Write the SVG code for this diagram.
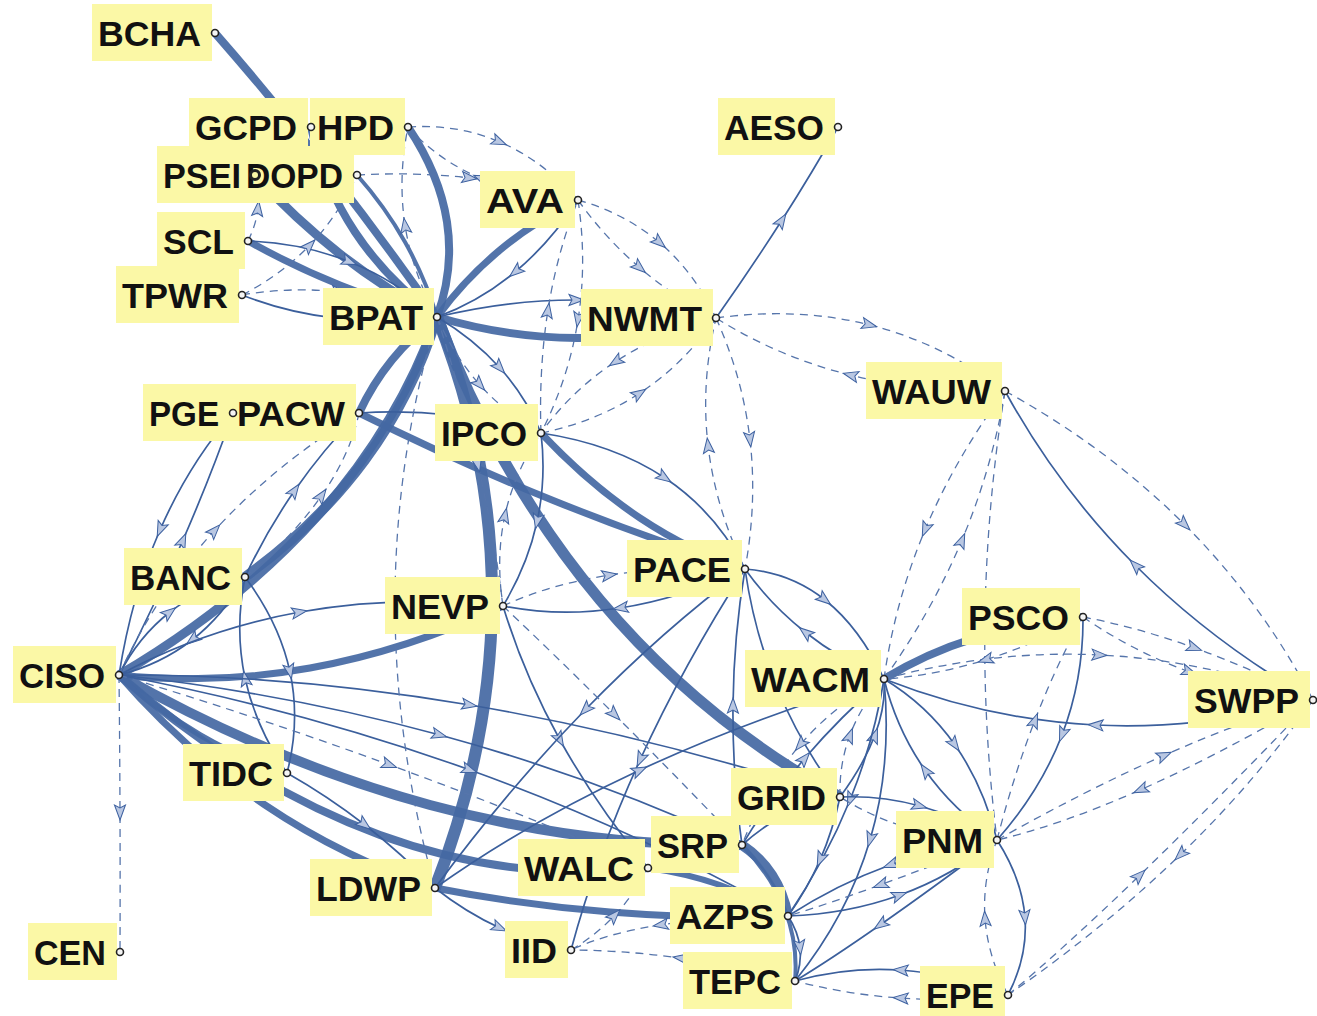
<svg xmlns="http://www.w3.org/2000/svg" width="1317" height="1016" viewBox="0 0 1317 1016">
<style>
.k{fill:none;stroke:#4468a3;stroke-opacity:.92}
.s{fill:none;stroke:#3b5f9c;stroke-width:1.7;marker-mid:url(#ah)}
.d{fill:none;stroke:#5675ab;stroke-width:1.3;stroke-dasharray:8 6;marker-mid:url(#ah)}
.lb{fill:#fbf8a6}
.t{font-family:"Liberation Sans",Arial,sans-serif;font-weight:700;font-size:35px;fill:#111}
.nd{fill:#f4f4f4;stroke:#222;stroke-width:1.6}
</style>
<defs>
<marker id="ah" viewBox="-10 -7 19 14" refX="0" refY="0" markerWidth="19" markerHeight="14" markerUnits="userSpaceOnUse" orient="auto">
<path d="M7,0 L-8,-5.5 L-5,0 L-8,5.5 Z" fill="#b9c7e2" stroke="#3d61a0" stroke-width="1"/>
</marker>
</defs>
<rect width="1317" height="1016" fill="#fff"/>
<g id="connectors">
<g id="thick">
<path class="k" stroke-width="8" d="M215 33 Q274.5 101 330 172 T437 317"/>
<path class="k" stroke-width="9" d="M255 175 Q294.5 218.5 340 254 T437 317"/>
<path class="k" stroke-width="8" d="M311 127 Q323.5 184.5 355 232 T437 317"/>
<path class="k" stroke-width="8" d="M408 127 Q439.75 174.5 447 222 T437 317"/>
<path class="k" stroke-width="4" d="M357 175 Q385 206.5 405 242 T437 317"/>
<path class="k" stroke-width="7" d="M248 241 Q292.75 266 340 285 T437 317"/>
<path class="k" stroke-width="7" d="M578 200 Q535.25 220.75 500 250 T437 317"/>
<path class="k" stroke-width="8" d="M716 318 Q646.75 338.25 577 338 T437 317"/>
<path class="k" stroke-width="12" d="M437 317 Q492.5 457.25 492 600 T435 888"/>
<path class="k" stroke-width="11" d="M437 317 Q499.25 480 600 600 T840 797"/>
<path class="k" stroke-width="7" d="M541 433 Q589 484 640 518 T745 569"/>
<path class="k" stroke-width="7" d="M359 413 Q455.5 461 552 500 T745 569"/>
<path class="k" stroke-width="8" d="M437 317 Q411.5 336 392 360 T359 413"/>
<path class="k" stroke-width="10" d="M437 317 Q413 395 365 460 T245 577"/>
<path class="k" stroke-width="9" d="M119 675 Q239.5 604 319 514.5 T437 317"/>
<path class="k" stroke-width="7" d="M119 675 Q214 685.25 310 668 T503 606"/>
<path class="k" stroke-width="10" d="M119 675 Q274.25 762.5 430 805 T742 845"/>
<path class="k" stroke-width="8" d="M119 675 Q247.75 786.75 380 835 T648 868"/>
<path class="k" stroke-width="6" d="M119 675 Q158 710.5 200 735 T287 773"/>
<path class="k" stroke-width="7" d="M119 675 Q186 751.75 265 805 T435 888"/>
<path class="k" stroke-width="7" d="M435 888 Q521.75 905 610 912 T788 916"/>
<path class="k" stroke-width="6" d="M648 868 Q685 873 720 885 T788 916"/>
<path class="k" stroke-width="10" d="M742 845 Q760.5 857.25 772 875 T788 916"/>
<path class="k" stroke-width="4" d="M742 845 Q771.75 876 785 910 T795 981"/>
<path class="k" stroke-width="8" d="M884 679 Q925.25 653.5 975 638 T1083 617"/>
</g>
<g id="solid">
<path class="s" d="M242 295 Q286.25 312.5 335 318 T437 317"/>
<path class="s" d="M248 241 Q302.75 243 350 262 T437 317"/>
<path class="s" d="M578 200 Q550.25 242.75 515 272 T437 317"/>
<path class="s" d="M437 317 Q507.25 299.75 577 300 T716 318"/>
<path class="s" d="M716 318 Q751.5 267.75 782 220 T838 127"/>
<path class="s" d="M437 317 Q474 339 500 368 T541 433"/>
<path class="s" d="M359 413 Q404.5 410 450 415 T541 433"/>
<path class="s" d="M245 577 Q266.5 531 295 490 T359 413"/>
<path class="s" d="M119 675 Q154.5 605.5 183 540 T233 413"/>
<path class="s" d="M233 413 Q188.5 464.5 160 530 T119 675"/>
<path class="s" d="M119 675 Q138.5 636.5 170 612 T245 577"/>
<path class="s" d="M245 577 Q223.5 615.5 192 640 T119 675"/>
<path class="s" d="M245 577 Q279.5 623 290 672 T287 773"/>
<path class="s" d="M287 773 Q255.5 727 245 678 T245 577"/>
<path class="s" d="M119 675 Q204 629.25 300 612 T503 606"/>
<path class="s" d="M119 675 Q289.75 674.5 470 705 T840 797"/>
<path class="s" d="M119 675 Q284.25 692.5 440 735 T742 845"/>
<path class="s" d="M119 675 Q302.75 709.75 470 770 T788 916"/>
<path class="s" d="M287 773 Q328 796.25 365 825 T435 888"/>
<path class="s" d="M435 888 Q466 912.5 500 928 T571 950"/>
<path class="s" d="M745 569 Q680.5 598.75 620 608 T503 606"/>
<path class="s" d="M541 433 Q546.5 478.75 537 522 T503 606"/>
<path class="s" d="M503 606 Q523.75 674.5 560 740 T648 868"/>
<path class="s" d="M745 569 Q662.5 630.25 585 710 T435 888"/>
<path class="s" d="M745 569 Q683.5 664.75 640 760 T571 950"/>
<path class="s" d="M745 569 Q790.25 572.5 825 600 T884 679"/>
<path class="s" d="M884 679 Q839.75 659.5 805 632 T745 569"/>
<path class="s" d="M745 569 Q754.25 633 778 690 T840 797"/>
<path class="s" d="M742 845 Q732.25 774 733 705 T745 569"/>
<path class="s" d="M840 797 Q864 764.5 875 735 T884 679"/>
<path class="s" d="M884 679 Q874 740.75 850 800 T788 916"/>
<path class="s" d="M742 845 Q769.5 799.5 805 758 T884 679"/>
<path class="s" d="M884 679 Q892.25 764.5 870 840 T795 981"/>
<path class="s" d="M884 679 Q926.75 704.75 955 745 T997 840"/>
<path class="s" d="M997 840 Q953.25 810.25 925 770 T884 679"/>
<path class="s" d="M1083 617 Q1083.5 679.25 1062 735 T997 840"/>
<path class="s" d="M1313 700 Q1202.25 730.25 1095 725 T884 679"/>
<path class="s" d="M1313 700 Q1212 642.25 1135 565 T1005 391"/>
<path class="s" d="M997 840 Q1022.25 879.25 1025 918 T1008 995"/>
<path class="s" d="M840 797 Q880.75 795.25 920 806 T997 840"/>
<path class="s" d="M840 797 Q814.5 800 790 812 T742 845"/>
<path class="s" d="M997 840 Q942.25 846 890 865 T788 916"/>
<path class="s" d="M788 916 Q847.75 914 900 895 T997 840"/>
<path class="s" d="M997 840 Q930.5 889.75 880 925 T795 981"/>
<path class="s" d="M1008 995 Q953.25 973.5 900 970 T795 981"/>
<path class="s" d="M840 797 Q833 830.25 820 860 T788 916"/>
<path class="s" d="M435 888 Q527.75 822.25 640 770 T884 679"/>
<path class="s" d="M788 916 Q798.25 931.75 800 948 T795 981"/>
<path class="s" d="M541 433 Q614 444 665 478 T745 569"/>
</g>
<g id="dashed">
<path class="d" d="M119 675 Q119.75 743.75 120 813 T120 952"/>
<path class="d" d="M119 675 Q155 595.5 215 530 T359 413"/>
<path class="d" d="M245 577 Q293.5 536 322 495 T359 413"/>
<path class="d" d="M435 888 Q394.5 742.75 395 600 T437 317"/>
<path class="d" d="M437 317 Q461.5 392.75 478 465 T503 606"/>
<path class="d" d="M503 606 Q495.5 558.25 505 515 T541 433"/>
<path class="d" d="M503 606 Q549.5 584.25 610 575 T745 569"/>
<path class="d" d="M503 606 Q555.25 655.25 615 715 T742 845"/>
<path class="d" d="M716 318 Q742.75 377.25 750 440 T745 569"/>
<path class="d" d="M745 569 Q715.25 507.75 708 445 T716 318"/>
<path class="d" d="M716 318 Q658.75 333.25 615 362 T541 433"/>
<path class="d" d="M541 433 Q596.25 421.75 640 393 T716 318"/>
<path class="d" d="M578 200 Q587.25 261.75 578 320 T541 433"/>
<path class="d" d="M541 433 Q538.75 368.25 548 310 T578 200"/>
<path class="d" d="M578 200 Q625.5 213.5 660 243 T716 318"/>
<path class="d" d="M578 200 Q605.5 238.5 640 268 T716 318"/>
<path class="d" d="M408 127 Q457.5 123.75 500 142 T578 200"/>
<path class="d" d="M578 200 Q522.5 196.25 480 178 T408 127"/>
<path class="d" d="M357 175 Q414.75 171.75 470 178 T578 200"/>
<path class="d" d="M437 317 Q412.25 272.5 405 225 T408 127"/>
<path class="d" d="M716 318 Q797.75 306.75 870 325 T1005 391"/>
<path class="d" d="M1005 391 Q922.25 393.25 850 375 T716 318"/>
<path class="d" d="M1005 391 Q1108 447.75 1185 525 T1313 700"/>
<path class="d" d="M1005 391 Q955.25 458 925 530 T884 679"/>
<path class="d" d="M884 679 Q931.75 612 962 540 T1005 391"/>
<path class="d" d="M1005 391 Q987 502.75 985 615 T997 840"/>
<path class="d" d="M1083 617 Q1137.5 627.25 1195 648 T1313 700"/>
<path class="d" d="M1083 617 Q1132.5 651.25 1190 672 T1313 700"/>
<path class="d" d="M884 679 Q992.75 649.75 1100 655 T1313 700"/>
<path class="d" d="M1083 617 Q1034.75 644.5 985 660 T884 679"/>
<path class="d" d="M997 840 Q1013.5 775.75 1035 720 T1083 617"/>
<path class="d" d="M1313 700 Q1219 755 1140 790 T997 840"/>
<path class="d" d="M997 840 Q1086 790 1165 755 T1313 700"/>
<path class="d" d="M1008 995 Q1063.75 948.75 1140 875 T1313 700"/>
<path class="d" d="M1313 700 Q1256.25 781.25 1180 855 T1008 995"/>
<path class="d" d="M1008 995 Q987.75 956.75 985 918 T997 840"/>
<path class="d" d="M1008 995 Q953.25 1001.5 900 998 T795 981"/>
<path class="d" d="M795 981 Q736 965.75 680 958 T571 950"/>
<path class="d" d="M788 916 Q714.25 916.5 660 925 T571 950"/>
<path class="d" d="M571 950 Q595.75 935.5 615 915 T648 868"/>
<path class="d" d="M997 840 Q954.25 840.75 915 830 T840 797"/>
<path class="d" d="M997 840 Q932.25 866 880 885 T788 916"/>
<path class="d" d="M119 675 Q257.75 716.75 390 765 T648 868"/>
<path class="d" d="M248 241 Q256.25 224.5 258 208 T255 175"/>
<path class="d" d="M242 295 Q291.25 286.5 340 292 T437 317"/>
<path class="d" d="M242 295 Q281.25 275 310 245 T357 175"/>
<path class="d" d="M840 797 Q839 764.5 850 735 T884 679"/>
<path class="d" d="M884 679 Q835.5 703.5 800 745 T742 845"/>
<path class="d" d="M437 317 Q454 356 480 385 T541 433"/>
</g>
</g>
<g id="nodes">
<g id="n-BCHA"><rect class="lb" x="92" y="4" width="120" height="57"/><text class="t" x="98" y="45.5" textLength="103" lengthAdjust="spacingAndGlyphs">BCHA</text><circle class="nd" cx="215" cy="33" r="3.5"/></g>
<g id="n-HPD"><rect class="lb" x="310" y="98" width="95" height="57"/><text class="t" x="317" y="139.5" textLength="77" lengthAdjust="spacingAndGlyphs">HPD</text><circle class="nd" cx="408" cy="127" r="3.5"/></g>
<g id="n-GCPD"><rect class="lb" x="189" y="98" width="119" height="57"/><text class="t" x="195" y="139.5" textLength="102" lengthAdjust="spacingAndGlyphs">GCPD</text><circle class="nd" cx="311" cy="127" r="3.5"/></g>
<g id="n-DOPD"><rect class="lb" x="244" y="146" width="110" height="57"/><text class="t" x="246" y="187.5" textLength="97" lengthAdjust="spacingAndGlyphs">DOPD</text><circle class="nd" cx="357" cy="175" r="3.5"/></g>
<g id="n-PSEI"><rect class="lb" x="157" y="146" width="87" height="57"/><text class="t" x="163" y="187.5" textLength="78" lengthAdjust="spacingAndGlyphs">PSEI</text><circle class="nd" cx="255" cy="175" r="4.5" style="fill:#fbf8a6;stroke-width:3"/></g>
<g id="n-AVA"><rect class="lb" x="480" y="171" width="95" height="57"/><text class="t" x="486" y="212.5" textLength="78" lengthAdjust="spacingAndGlyphs">AVA</text><circle class="nd" cx="578" cy="200" r="3.5"/></g>
<g id="n-AESO"><rect class="lb" x="718" y="98" width="117" height="57"/><text class="t" x="724" y="139.5" textLength="100" lengthAdjust="spacingAndGlyphs">AESO</text><circle class="nd" cx="838" cy="127" r="3.5"/></g>
<g id="n-SCL"><rect class="lb" x="157" y="212" width="88" height="57"/><text class="t" x="163" y="253.5" textLength="71" lengthAdjust="spacingAndGlyphs">SCL</text><circle class="nd" cx="248" cy="241" r="3.5"/></g>
<g id="n-TPWR"><rect class="lb" x="116" y="266" width="123" height="57"/><text class="t" x="122" y="307.5" textLength="106" lengthAdjust="spacingAndGlyphs">TPWR</text><circle class="nd" cx="242" cy="295" r="3.5"/></g>
<g id="n-BPAT"><rect class="lb" x="323" y="288" width="111" height="57"/><text class="t" x="329" y="329.5" textLength="94" lengthAdjust="spacingAndGlyphs">BPAT</text><circle class="nd" cx="437" cy="317" r="3.5"/></g>
<g id="n-NWMT"><rect class="lb" x="581" y="289" width="132" height="57"/><text class="t" x="587" y="330.5" textLength="115" lengthAdjust="spacingAndGlyphs">NWMT</text><circle class="nd" cx="716" cy="318" r="3.5"/></g>
<g id="n-WAUW"><rect class="lb" x="866" y="362" width="136" height="57"/><text class="t" x="872" y="403.5" textLength="119" lengthAdjust="spacingAndGlyphs">WAUW</text><circle class="nd" cx="1005" cy="391" r="3.5"/></g>
<g id="n-PACW"><rect class="lb" x="233" y="384" width="123" height="57"/><text class="t" x="237" y="425.5" textLength="108" lengthAdjust="spacingAndGlyphs">PACW</text><circle class="nd" cx="359" cy="413" r="3.5"/></g>
<g id="n-PGE"><rect class="lb" x="143" y="384" width="90" height="57"/><text class="t" x="149" y="425.5" textLength="70" lengthAdjust="spacingAndGlyphs">PGE</text><circle class="nd" cx="233" cy="413" r="3.5"/></g>
<g id="n-IPCO"><rect class="lb" x="435" y="404" width="103" height="57"/><text class="t" x="441" y="445.5" textLength="86" lengthAdjust="spacingAndGlyphs">IPCO</text><circle class="nd" cx="541" cy="433" r="3.5"/></g>
<g id="n-PACE"><rect class="lb" x="627" y="540" width="115" height="57"/><text class="t" x="633" y="581.5" textLength="98" lengthAdjust="spacingAndGlyphs">PACE</text><circle class="nd" cx="745" cy="569" r="3.5"/></g>
<g id="n-BANC"><rect class="lb" x="124" y="548" width="118" height="57"/><text class="t" x="130" y="589.5" textLength="101" lengthAdjust="spacingAndGlyphs">BANC</text><circle class="nd" cx="245" cy="577" r="3.5"/></g>
<g id="n-NEVP"><rect class="lb" x="385" y="577" width="115" height="57"/><text class="t" x="391" y="618.5" textLength="98" lengthAdjust="spacingAndGlyphs">NEVP</text><circle class="nd" cx="503" cy="606" r="3.5"/></g>
<g id="n-PSCO"><rect class="lb" x="962" y="588" width="118" height="57"/><text class="t" x="968" y="629.5" textLength="101" lengthAdjust="spacingAndGlyphs">PSCO</text><circle class="nd" cx="1083" cy="617" r="3.5"/></g>
<g id="n-CISO"><rect class="lb" x="13" y="646" width="103" height="57"/><text class="t" x="19" y="687.5" textLength="86" lengthAdjust="spacingAndGlyphs">CISO</text><circle class="nd" cx="119" cy="675" r="3.5"/></g>
<g id="n-WACM"><rect class="lb" x="745" y="650" width="136" height="57"/><text class="t" x="751" y="691.5" textLength="119" lengthAdjust="spacingAndGlyphs">WACM</text><circle class="nd" cx="884" cy="679" r="3.5"/></g>
<g id="n-SWPP"><rect class="lb" x="1188" y="671" width="122" height="57"/><text class="t" x="1194" y="712.5" textLength="105" lengthAdjust="spacingAndGlyphs">SWPP</text><circle class="nd" cx="1313" cy="700" r="3.5"/></g>
<g id="n-TIDC"><rect class="lb" x="183" y="744" width="101" height="57"/><text class="t" x="189" y="785.5" textLength="84" lengthAdjust="spacingAndGlyphs">TIDC</text><circle class="nd" cx="287" cy="773" r="3.5"/></g>
<g id="n-GRID"><rect class="lb" x="731" y="768" width="106" height="57"/><text class="t" x="737" y="809.5" textLength="89" lengthAdjust="spacingAndGlyphs">GRID</text><circle class="nd" cx="840" cy="797" r="3.5"/></g>
<g id="n-PNM"><rect class="lb" x="896" y="811" width="98" height="57"/><text class="t" x="902" y="852.5" textLength="81" lengthAdjust="spacingAndGlyphs">PNM</text><circle class="nd" cx="997" cy="840" r="3.5"/></g>
<g id="n-SRP"><rect class="lb" x="651" y="816" width="88" height="57"/><text class="t" x="657" y="857.5" textLength="71" lengthAdjust="spacingAndGlyphs">SRP</text><circle class="nd" cx="742" cy="845" r="3.5"/></g>
<g id="n-WALC"><rect class="lb" x="518" y="839" width="127" height="57"/><text class="t" x="524" y="880.5" textLength="110" lengthAdjust="spacingAndGlyphs">WALC</text><circle class="nd" cx="648" cy="868" r="3.5"/></g>
<g id="n-LDWP"><rect class="lb" x="310" y="859" width="122" height="57"/><text class="t" x="316" y="900.5" textLength="105" lengthAdjust="spacingAndGlyphs">LDWP</text><circle class="nd" cx="435" cy="888" r="3.5"/></g>
<g id="n-AZPS"><rect class="lb" x="670" y="887" width="115" height="57"/><text class="t" x="676" y="928.5" textLength="98" lengthAdjust="spacingAndGlyphs">AZPS</text><circle class="nd" cx="788" cy="916" r="3.5"/></g>
<g id="n-CEN"><rect class="lb" x="28" y="923" width="89" height="57"/><text class="t" x="34" y="964.5" textLength="72" lengthAdjust="spacingAndGlyphs">CEN</text><circle class="nd" cx="120" cy="952" r="3.5"/></g>
<g id="n-IID"><rect class="lb" x="505" y="921" width="63" height="57"/><text class="t" x="511" y="962.5" textLength="46" lengthAdjust="spacingAndGlyphs">IID</text><circle class="nd" cx="571" cy="950" r="3.5"/></g>
<g id="n-TEPC"><rect class="lb" x="683" y="952" width="109" height="57"/><text class="t" x="689" y="993.5" textLength="92" lengthAdjust="spacingAndGlyphs">TEPC</text><circle class="nd" cx="795" cy="981" r="3.5"/></g>
<g id="n-EPE"><rect class="lb" x="920" y="966" width="85" height="57"/><text class="t" x="926" y="1007.5" textLength="68" lengthAdjust="spacingAndGlyphs">EPE</text><circle class="nd" cx="1008" cy="995" r="3.5"/></g>
</g>
</svg>
